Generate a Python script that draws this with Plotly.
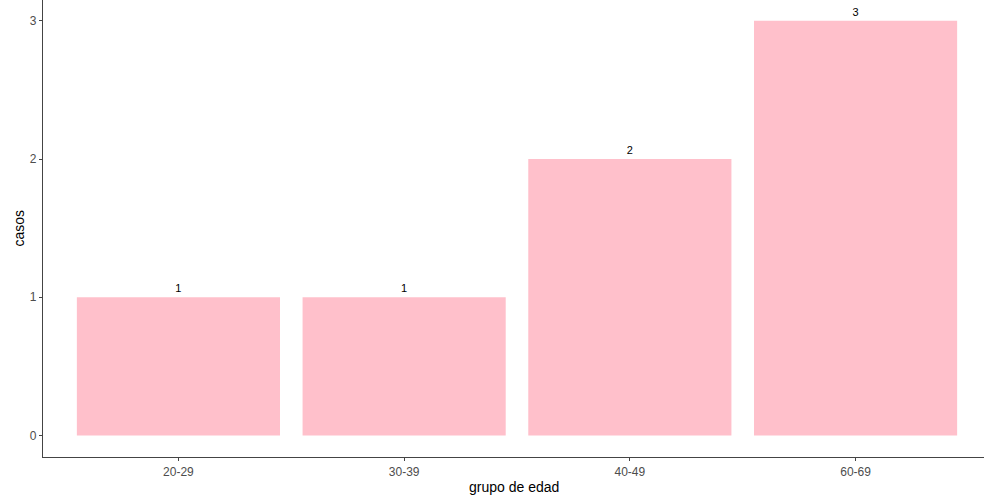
import plotly.graph_objects as go

categories = ["20-29", "30-39", "40-49", "60-69"]
casos = [1, 1, 2, 3]
y_ticks = [0, 1, 2, 3]

fig = go.Figure()
fig.add_trace(go.Bar(
    x=categories, y=casos, width=0.9,
    marker=dict(color="#FFC0CB", line=dict(width=0)),
    text=[str(v) for v in casos], textposition="outside",
    textfont=dict(family="Liberation Sans, Arial", size=11, color="black"),
    cliponaxis=False,
))

fig.update_layout(
    width=984, height=497,
    margin=dict(l=43, r=0, t=0, b=40, autoexpand=False),
    plot_bgcolor="white", paper_bgcolor="white",
    showlegend=False,
    bargap=0.1,
    font=dict(family="Liberation Sans, Arial", size=12, color="black"),
    xaxis=dict(
        range=[-0.6, 3.569], automargin=False,
        showline=True, linecolor="#444", linewidth=1.2,
        ticks="outside", ticklen=3, tickcolor="#444",
        tickfont=dict(size=12, color="#4D4D4D"),
        showgrid=False, zeroline=False,
    ),
    yaxis=dict(
        range=[-0.155, 3.15], automargin=False,
        tickvals=y_ticks,
        showline=True, linecolor="#444", linewidth=1.2,
        ticks="outside", ticklen=3, tickcolor="#444",
        tickfont=dict(size=12, color="#4D4D4D"),
        showgrid=False, zeroline=False,
    ),
    annotations=[
        dict(text="grupo de edad", xref="paper", yref="paper", x=0.5, y=0,
             yshift=-30, yanchor="middle", showarrow=False,
             font=dict(size=14, color="black")),
        dict(text="casos", xref="paper", yref="paper", x=0, y=0.5,
             xshift=-25, xanchor="center", textangle=-90, showarrow=False,
             font=dict(size=14, color="black")),
    ],
)

fig.write_html("out.html", config={"displayModeBar": False},
               post_script="document.body.style.margin='0px';document.body.style.overflow='hidden';")
